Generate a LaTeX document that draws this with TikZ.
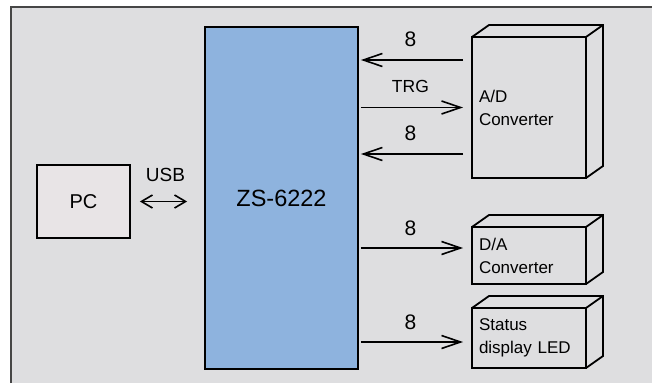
\documentclass[tikz,border=0pt]{standalone}
\usepackage{fontspec}
\setmainfont{Liberation Sans}
\usetikzlibrary{arrows.meta, positioning}
\definecolor{fond}{RGB}{222,222,224}
\definecolor{cadre}{RGB}{70,70,70}
\definecolor{bleuzs}{RGB}{142,179,222}
\definecolor{grispc}{RGB}{232,228,230}
\tikzset{
	bloc/.style={draw=black, line width=1.8pt, inner sep=0pt},
	boite/.style={bloc, outer sep=0pt, text width=100pt, align=left,
		inner xsep=7pt, font=\fontsize{17}{23}\selectfont},
	fleche/.style={line width=1.6pt,
		-{Straight Barb[length=19pt, width=13pt, line width=1.6pt]}},
	lbl/.style={above=12pt, xshift=-5pt, inner sep=0pt,
		font=\fontsize{21}{21}\selectfont},
}
% faces arriere des boites en relief
\newcommand{\relief}[1]{%
	\draw[line width=1.8pt, line join=miter]
	(#1.north west) -- ++(17,-12) -| ([shift={(17,-12)}]#1.south east)
	-- (#1.south east);
	\draw[line width=1.8pt] (#1.north east) -- ++(17,-12);
}

\begin{document}
\begin{tikzpicture}[x=1pt, y=-1pt]
	\useasboundingbox (0,0) rectangle (652,383);
	\fill[fond] (11,7) rectangle (652,383);
	\draw[cadre, line width=1.3pt] (11,383) -- (11,7) -- (652,7);
	
	\node[bloc, fill=grispc, minimum width=93pt, minimum height=73pt,
	font=\fontsize{20}{20}\selectfont]
	(pc) at (83.5,201.5) {PC};
	
	\node[bloc, fill=bleuzs, minimum width=153pt, minimum height=342pt,
	font=\fontsize{23.5}{23.5}\selectfont]
	(zs) at (281.5,198) {ZS-6222};
	
	\node[boite, minimum height=141pt] (ad) at (529,107.5) {A/D\\Converter};
	\node[boite, minimum height=57pt] (da) at (529,255.5) {D/A\\Converter};
	\node[boite, minimum height=60pt] (led) at (529,338) {Status\\display LED};
	\relief{ad}
	\relief{da}
	\relief{led}
	
	\coordinate (a1) at ([yshift=47.5pt]ad.west);
	\coordinate (a2) at (ad.west);
	\coordinate (a3) at ([yshift=-46.5pt]ad.west);
	\coordinate (d1) at ([yshift=7.5pt]da.west);
	\coordinate (l1) at ([yshift=-4pt]led.west);
	
	\draw[fleche, shorten <=9pt, shorten >=2pt] (a1) -- node[lbl] {8} (zs.east |- a1);
	\draw[fleche, shorten >=9pt, shorten <=2pt] (zs.east |- a2) -- node[lbl, above=14pt,
	font=\fontsize{17.5}{17.5}\selectfont] {TRG} (a2);
	\draw[fleche, shorten <=9pt, shorten >=2pt] (a3) -- node[lbl] {8} (zs.east |- a3);
	\draw[fleche, shorten >=9pt, shorten <=2pt] (zs.east |- d1) -- node[lbl] {8} (d1);
	\draw[fleche, shorten >=9pt, shorten <=2pt] (zs.east |- l1) -- node[lbl] {8} (l1);
	
	\draw[line width=1.6pt, shorten <=9pt, shorten >=17pt,
	{Straight Barb[length=11pt, width=13pt, line width=1.6pt]}-{Straight Barb[length=11pt, width=13pt, line width=1.6pt]}]
	(pc.east) -- node[above=19pt, xshift=-2pt, inner sep=0pt,
	font=\fontsize{19}{19}\selectfont] {USB} (zs.west |- pc.east);
\end{tikzpicture}
\end{document}
